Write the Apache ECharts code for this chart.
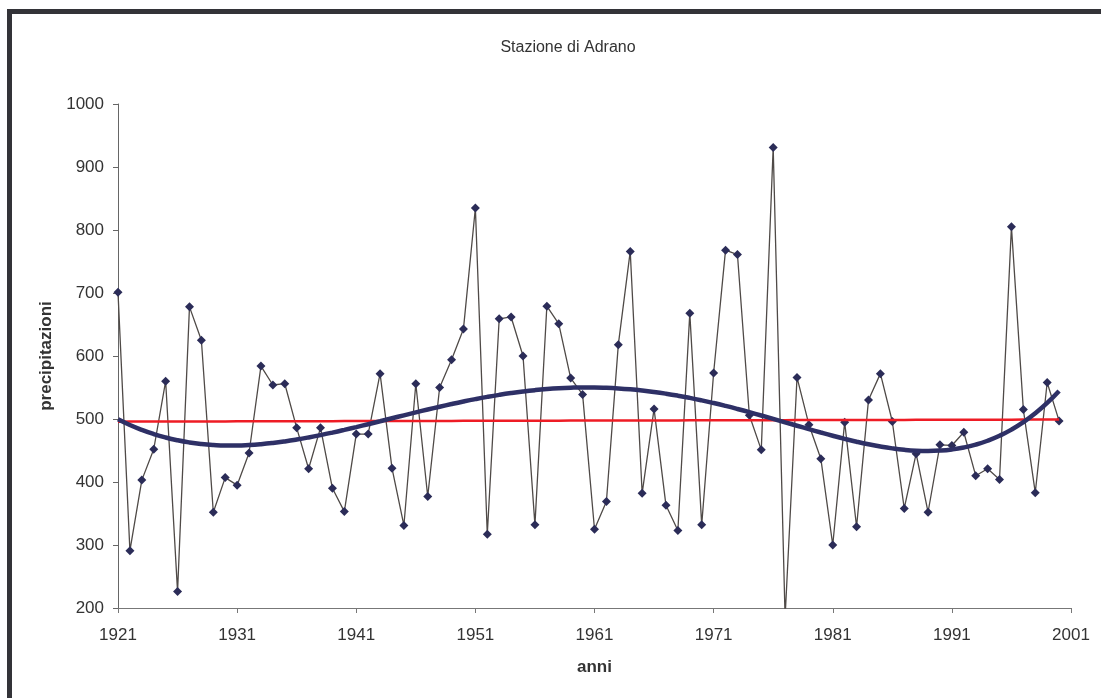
<!DOCTYPE html>
<html>
<head>
<meta charset="utf-8">
<script src="https://cdn.jsdelivr.net/npm/echarts@6/dist/echarts.min.js"></script>
<style>
  html, body { margin: 0; padding: 0; background: #ffffff; }
  #wrap { position: relative; width: 1101px; height: 698px; overflow: hidden; background: #fff; }
  #frame { position: absolute; left: 7px; top: 9px; width: 1200px; height: 800px;
           border-top: 5px solid #333338; border-left: 5px solid #333338; box-sizing: border-box; }
  #chart { position: absolute; left: 0; top: 0; width: 1101px; height: 698px; }
</style>
</head>
<body>
<div id="wrap">
  <div id="frame"></div>
  <div id="chart"></div>
</div>
<script>
// ---- data ----
const title = 'Stazione di Adrano';
const xName = 'anni';
const yName = 'precipitazioni';
const firstYear = 1921;
const lastAxisYear = 2001;
const yMin = 200, yMax = 1000, yStep = 100;

// annual precipitation 1921 .. 2000
const precip = [
  701, 291, 403, 452, 560, 226, 678, 625, 352, 407,
  395, 446, 584, 554, 556, 486, 421, 486, 390, 353,
  476, 476, 572, 422, 331, 556, 377, 550, 594, 643,
  835, 317, 659, 662, 600, 332, 679, 651, 565, 539,
  325, 369, 618, 766, 382, 516, 363, 323, 668, 332,
  573, 768, 761, 506, 451, 931, 185, 566, 491, 437,
  300, 495, 329, 530, 572, 496, 358, 445, 352, 459,
  458, 479, 410, 421, 404, 805, 515, 383, 558, 497
];
const polyDegree = 6;

// ---- category axis labels ----
const years = [];
for (let y = firstYear; y <= lastAxisYear; y++) years.push(String(y));

// ---- least squares trend lines computed from the data ----
function polyfit(ys, deg) {
  const n = ys.length, c = (n - 1) / 2;
  const us = ys.map((_, i) => (i - c) / c);
  const m = deg + 1;
  const A = [], b = [];
  for (let r = 0; r < m; r++) {
    A.push(new Array(m).fill(0)); b.push(0);
  }
  for (let i = 0; i < n; i++) {
    for (let r = 0; r < m; r++) {
      b[r] += ys[i] * Math.pow(us[i], r);
      for (let k = 0; k < m; k++) A[r][k] += Math.pow(us[i], r + k);
    }
  }
  for (let p = 0; p < m; p++) {
    let best = p;
    for (let r = p + 1; r < m; r++) if (Math.abs(A[r][p]) > Math.abs(A[best][p])) best = r;
    [A[p], A[best]] = [A[best], A[p]]; [b[p], b[best]] = [b[best], b[p]];
    for (let r = p + 1; r < m; r++) {
      const f = A[r][p] / A[p][p];
      for (let k = p; k < m; k++) A[r][k] -= f * A[p][k];
      b[r] -= f * b[p];
    }
  }
  const coef = new Array(m).fill(0);
  for (let r = m - 1; r >= 0; r--) {
    let s = b[r];
    for (let k = r + 1; k < m; k++) s -= A[r][k] * coef[k];
    coef[r] = s / A[r][r];
  }
  return us.map(u => coef.reduce((acc, a, k) => acc + a * Math.pow(u, k), 0));
}
const linearTrend = polyfit(precip, 1);
const polyTrend = polyfit(precip, polyDegree);

const chart = echarts.init(document.getElementById('chart'), null, { renderer: 'canvas' });
const font = 'Liberation Sans, Arial, sans-serif';
chart.setOption({
  animation: false,
  backgroundColor: 'transparent',
  textStyle: { fontFamily: font },
  graphic: [{
    type: 'text', x: 568, y: 48,
    style: { text: title, fill: '#333', font: '16px ' + font, textAlign: 'center', textVerticalAlign: 'middle' }
  }],
  grid: { left: 118, right: 30, top: 104, bottom: 90, containLabel: false },
  xAxis: {
    type: 'category', data: years, boundaryGap: false,
    name: xName, nameLocation: 'middle', nameGap: 51,
    nameTextStyle: { fontSize: 17, fontWeight: 'bold', color: '#333', fontFamily: font },
    axisLine: { lineStyle: { color: '#777', width: 1 } },
    axisTick: { interval: 9, length: 5, lineStyle: { color: '#777' } },
    axisLabel: { interval: 9, fontSize: 17, color: '#333', margin: 19, fontFamily: font },
    splitLine: { show: false }
  },
  yAxis: {
    type: 'value', min: yMin, max: yMax, interval: yStep,
    name: yName, nameLocation: 'middle', nameGap: 63, nameRotate: 90,
    nameTextStyle: { fontSize: 17, fontWeight: 'bold', color: '#333', fontFamily: font },
    axisLine: { show: true, lineStyle: { color: '#666', width: 1 } },
    axisTick: { show: true, length: 5, lineStyle: { color: '#666' } },
    axisLabel: { fontSize: 17, color: '#333', margin: 14, fontFamily: font, formatter: v => String(v) },
    splitLine: { show: false }
  },
  series: [
    {
      name: 'precipitazioni', type: 'line', data: precip, clip: true,
      symbol: 'diamond', symbolSize: 9, showSymbol: true, showAllSymbol: true,
      lineStyle: { color: '#4f4a47', width: 1.3 },
      itemStyle: { color: '#2b2c58' }, z: 2
    },
    {
      name: 'lineare', type: 'line', data: linearTrend, symbol: 'none',
      lineStyle: { color: '#ee1c25', width: 2.5 }, z: 3, silent: true
    },
    {
      name: 'polinomiale', type: 'line', data: polyTrend, symbol: 'none', smooth: true,
      lineStyle: { color: '#2e3066', width: 4.5 }, z: 4, silent: true
    }
  ]
});
</script>
</body>
</html>
